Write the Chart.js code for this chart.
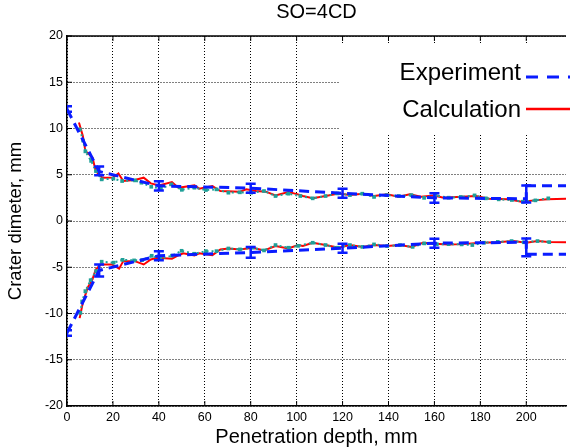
<!DOCTYPE html>
<html>
<head>
<meta charset="utf-8">
<script src="https://cdn.jsdelivr.net/npm/chart.js@4.4.1/dist/chart.umd.min.js"></script>
<style>
  html, body { margin: 0; padding: 0; background: #fff; }
</style>
</head>
<body>
<canvas id="chart" width="570" height="447"></canvas>
<script>
const xTicks = [0, 20, 40, 60, 80, 100, 120, 140, 160, 180, 200];
const yTicks = [-20, -15, -10, -5, 0, 5, 10, 15, 20];

// experiment contour (blue dashed)
const expX = [0, 14, 40, 80, 120, 160, 200, 200, 220];
const expUpper = [12.1, 5.35, 3.8, 3.55, 3.0, 2.5, 2.4, 3.8, 3.8];
const expLower = [-12.1, -5.35, -3.75, -3.4, -2.95, -2.4, -2.3, -3.6, -3.6];

// experiment scatter
const errX = [0, 14, 40, 80, 120, 160, 200];
const errUpperHi = [12.4, 5.9, 4.3, 4.03, 3.5, 3.0, 3.85];
const errUpperLo = [11.8, 4.95, 3.3, 3.06, 2.52, 1.98, 2.0];
const errLowerHi = [-11.8, -4.7, -3.26, -2.82, -2.46, -1.92, -1.88];
const errLowerLo = [-12.4, -6.0, -4.23, -3.97, -3.43, -2.89, -3.8];

// calculation (red)
const calcUpperX = [5.2, 6.9, 8, 11.1, 12.5, 15.4, 20, 22.4, 24.5, 29.5, 33.4, 36.5, 40, 45.7, 48.5, 55.5, 57.6, 63.3, 66.8, 75.3, 78.1, 82.3, 86.6, 90.8, 96.4, 100.6, 102.7, 107, 112.6, 118.3, 123.2, 128.8, 133.7, 139.4, 144.3, 149.3, 154.2, 159.8, 164, 169.8, 178.1, 183.8, 192.3, 197.9, 203.5, 209.2, 218];
const calcUpperY = [10.64, 9.2, 7.56, 6.85, 5.4, 4.68, 4.7, 5.15, 4.32, 4.43, 4.68, 4.07, 3.85, 4.21, 3.6, 3.85, 3.5, 3.78, 3.24, 3.17, 3.42, 3.24, 3.17, 2.77, 3.13, 2.88, 2.7, 2.45, 2.7, 2.98, 2.8, 2.95, 2.7, 2.88, 2.63, 2.88, 2.63, 2.75, 2.52, 2.6, 2.7, 2.41, 2.34, 2.09, 2.23, 2.34, 2.4];
const calcLowerX = [5.5, 6.9, 9, 11.1, 12.5, 14.7, 19.6, 22.7, 24.5, 29.5, 33.4, 36.5, 39.3, 45.7, 47.8, 50.6, 55.5, 57.6, 63.3, 66.8, 70.3, 75.3, 80.9, 85.8, 90.8, 96.4, 100.6, 102.7, 107, 112.6, 118.3, 123.2, 128.8, 133.7, 139.4, 145, 150, 155, 160, 166.2, 172, 180.3, 187.3, 194.3, 200, 204.9, 209.8, 218];
const calcLowerY = [-10.5, -8.84, -7.2, -6.3, -5.24, -4.7, -4.7, -5.16, -4.34, -4.34, -4.7, -4.16, -3.97, -4.08, -3.8, -3.5, -3.72, -3.5, -3.69, -3.07, -2.97, -3.07, -2.89, -3.18, -2.71, -2.97, -2.6, -2.71, -2.35, -2.6, -2.89, -2.6, -2.8, -2.6, -2.71, -2.6, -2.8, -2.35, -2.45, -2.53, -2.5, -2.35, -2.31, -2.17, -2.35, -2.17, -2.28, -2.3];

// fitted points (teal dotted)
const simUpperX = [5.6, 7, 8, 10.5, 12.6, 15.1, 20.2, 24, 29.6, 32.4, 36.7, 40.9, 45.5, 50, 55.5, 60.5, 65.1, 70.3, 75.3, 80.2, 85.8, 90.8, 96.4, 101.6, 107, 112.6, 117.8, 123.2, 128.6, 133.7, 139.2, 144.5, 150, 155.5, 160.5, 166.2, 171.5, 177.5, 182.4, 188, 193.7, 198.5, 204, 209.6];
const simUpperY = [9.9, 8.7, 7.53, 6.5, 5.4, 4.5, 4.58, 4.32, 4.39, 4.14, 3.7, 3.5, 3.96, 3.37, 3.6, 3.35, 3.42, 3.06, 3.1, 3.06, 3.24, 2.7, 2.95, 2.7, 2.45, 2.7, 2.98, 2.8, 2.95, 2.6, 2.8, 2.7, 2.8, 2.5, 2.77, 2.52, 2.6, 2.77, 2.45, 2.34, 2.27, 2.09, 2.23, 2.45];
const simLowerX = [5.8, 6.6, 8, 10.3, 12.7, 15.1, 20.3, 24.2, 29.2, 32.7, 36.9, 40.7, 45.7, 49.9, 55.5, 60.5, 65.1, 70.3, 75.3, 80.9, 85.8, 90.8, 96.4, 100.6, 107, 112.6, 117.8, 123.2, 128.6, 133.7, 139.4, 145, 150.5, 155.6, 161, 166.2, 171.8, 176.5, 181.6, 187.6, 193.6, 199, 204.9, 210];
const simLowerY = [-9.93, -8.7, -7.58, -6.4, -5.42, -4.4, -4.5, -4.2, -4.26, -4.23, -3.76, -4.08, -3.75, -3.22, -3.54, -3.26, -3.26, -2.97, -3.07, -2.89, -3.18, -2.6, -2.89, -2.69, -2.35, -2.6, -2.89, -2.6, -2.8, -2.53, -2.71, -2.6, -2.8, -2.42, -2.5, -2.5, -2.53, -2.6, -2.35, -2.26, -2.17, -2.3, -2.17, -2.28];

const FONT = '"Liberation Sans", Arial, sans-serif';
const blue = '#0a1cff';
const red = '#ff0000';
const teal = '#1fa098';

function pts(xs, ys) {
  return xs.map((x, i) => ({ x: x, y: ys[i] }));
}

const expStyle = { borderColor: blue, borderWidth: 3, borderDash: [10, 6], pointRadius: 0 };
const simStyle = { borderColor: teal, borderWidth: 2, borderDash: [2, 3], pointStyle: 'rect', pointRadius: 2.6, pointBackgroundColor: teal, pointBorderWidth: 0 };
const calcStyle = { borderColor: red, borderWidth: 2, pointRadius: 0 };

// matlab-ish frame, error bars and the legend box
const extras = {
  id: 'extras',
  beforeDatasetsDraw(chart) {
    const { ctx, chartArea: a } = chart;
    ctx.save();
    ctx.fillStyle = '#fff';
    ctx.fillRect(a.right - 227, a.top + 8, 227, 90);
    ctx.restore();
  },
  afterDatasetsDraw(chart) {
    const { ctx, chartArea: a, scales: { x, y } } = chart;
    ctx.save();
    ctx.beginPath();
    ctx.rect(a.left, a.top, a.right - a.left, a.bottom - a.top);
    ctx.clip();
    ctx.strokeStyle = blue;
    ctx.lineWidth = 2.5;
    const bar = (xv, lo, hi) => {
      const px = x.getPixelForValue(xv);
      const p1 = y.getPixelForValue(lo);
      const p2 = y.getPixelForValue(hi);
      ctx.beginPath();
      ctx.moveTo(px, p1); ctx.lineTo(px, p2);
      ctx.moveTo(px - 5, p1); ctx.lineTo(px + 5, p1);
      ctx.moveTo(px - 5, p2); ctx.lineTo(px + 5, p2);
      ctx.stroke();
    };
    errX.forEach((xv, i) => {
      bar(xv, errUpperLo[i], errUpperHi[i]);
      bar(xv, errLowerLo[i], errLowerHi[i]);
    });
    ctx.restore();

    // inward ticks + top border
    ctx.save();
    ctx.strokeStyle = '#000';
    ctx.lineWidth = 1;
    ctx.beginPath();
    xTicks.forEach(v => {
      const px = x.getPixelForValue(v);
      ctx.moveTo(px, a.bottom); ctx.lineTo(px, a.bottom - 5);
      ctx.moveTo(px, a.top); ctx.lineTo(px, a.top + 5);
    });
    yTicks.forEach(v => {
      const py = y.getPixelForValue(v);
      ctx.moveTo(a.left, py); ctx.lineTo(a.left + 5, py);
    });
    ctx.stroke();
    ctx.lineWidth = 1.5;
    ctx.beginPath();
    ctx.moveTo(a.left, a.top); ctx.lineTo(a.right, a.top);
    ctx.stroke();
    ctx.restore();
  },
  afterDraw(chart) {
    const { ctx } = chart;
    const items = [
      { text: 'Experiment', color: blue, width: 3, dash: [12, 9], ty: 73, ly: 77 },
      { text: 'Calculation', color: red, width: 2.5, dash: [], ty: 110, ly: 109 }
    ];
    ctx.save();
    ctx.font = '24px ' + FONT;
    ctx.textAlign = 'right';
    ctx.textBaseline = 'middle';
    items.forEach(it => {
      ctx.fillStyle = '#000';
      ctx.fillText(it.text, 521, it.ty);
      ctx.strokeStyle = it.color;
      ctx.lineWidth = it.width;
      ctx.setLineDash(it.dash);
      ctx.beginPath();
      ctx.moveTo(526, it.ly); ctx.lineTo(580, it.ly);
      ctx.stroke();
    });
    ctx.restore();
  }
};

new Chart(document.getElementById('chart'), {
  type: 'line',
  data: {
    datasets: [
      Object.assign({ label: 'Experiment', data: pts(expX, expUpper) }, expStyle),
      Object.assign({ label: 'Experiment (lower)', data: pts(expX, expLower) }, expStyle),
      Object.assign({ label: 'Points', data: pts(simUpperX, simUpperY) }, simStyle),
      Object.assign({ label: 'Points (lower)', data: pts(simLowerX, simLowerY) }, simStyle),
      Object.assign({ label: 'Calculation', data: pts(calcUpperX, calcUpperY) }, calcStyle),
      Object.assign({ label: 'Calculation (lower)', data: pts(calcLowerX, calcLowerY) }, calcStyle)
    ]
  },
  options: {
    responsive: false,
    animation: false,
    devicePixelRatio: 1,
    events: [],
    layout: { padding: { left: 0, right: -11, top: 0, bottom: 0 } },
    plugins: {
      legend: { display: false },
      tooltip: { enabled: false },
      title: {
        display: true,
        text: 'SO=4CD',
        fullSize: false,
        color: '#000',
        font: { family: FONT, size: 20, weight: 'normal', lineHeight: 1 },
        padding: { top: 2, bottom: 14 }
      }
    },
    scales: {
      x: {
        type: 'linear',
        min: 0,
        max: 217.3,
        afterBuildTicks: s => { s.ticks = xTicks.map(v => ({ value: v })); },
        afterFit: s => { s.height = 41; },
        grid: { color: '#000', lineWidth: 1, drawTicks: false },
        border: { display: true, color: '#000', width: 1.5, dash: [1, 2] },
        ticks: { color: '#000', padding: 4, maxRotation: 0, font: { family: FONT, size: 12.5 } },
        title: {
          display: true,
          text: 'Penetration depth, mm',
          color: '#000',
          font: { family: FONT, size: 20, lineHeight: 1 },
          padding: { top: 0, bottom: 0 }
        }
      },
      y: {
        type: 'linear',
        min: -20,
        max: 20,
        afterBuildTicks: s => { s.ticks = yTicks.map(v => ({ value: v })); },
        afterFit: s => { s.width = 67; },
        grid: { color: '#000', lineWidth: 1, drawTicks: false },
        border: { display: true, color: '#000', width: 1.5, dash: [1, 2] },
        ticks: { color: '#000', padding: 4, font: { family: FONT, size: 12.5 } },
        title: {
          display: true,
          text: 'Crater dimeter, mm',
          color: '#000',
          font: { family: FONT, size: 18.5, lineHeight: 1 },
          padding: { top: 7, bottom: 0 }
        }
      }
    }
  },
  plugins: [extras]
});
</script>
</body>
</html>
